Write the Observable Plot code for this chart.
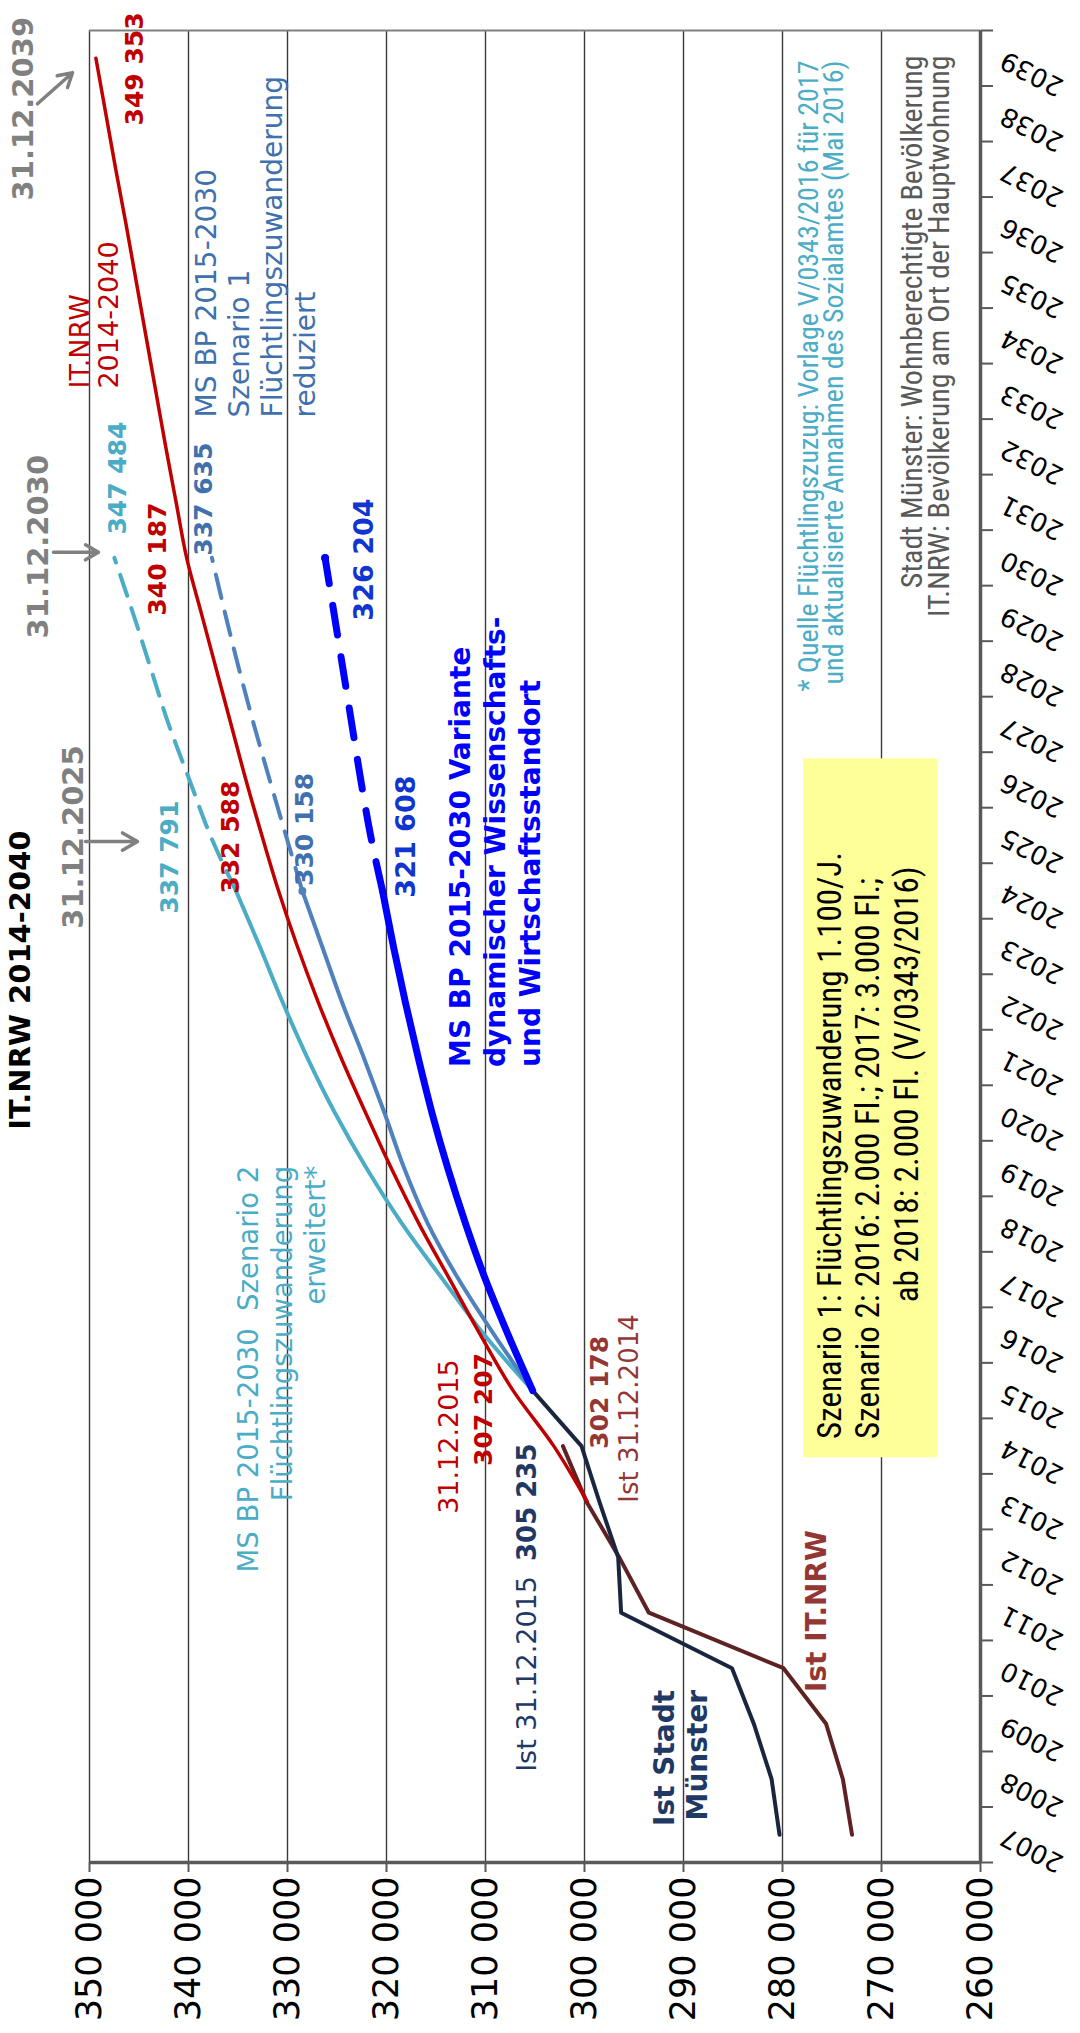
<!DOCTYPE html>
<html><head><meta charset="utf-8">
<script src="https://cdn.jsdelivr.net/npm/d3@7"></script>
<script src="https://cdn.jsdelivr.net/npm/@observablehq/plot@0.6"></script>
<style>body{margin:0;background:#fff} svg{display:block}</style>
</head><body><div id="chart"></div>
<script>
// ---------- data ----------
const yearTicks = d3.range(2007, 2040);
const valueTicks = d3.range(260000, 350001, 10000);

const yearsIstMS = [2007, 2008, 2009, 2010, 2011, 2012, 2013, 2014, 2015];
const istMuenster = [280300, 281100, 282900, 285100, 296300, 296600, 298500, 300300, 305235];

const yearsIstNRW = [2007, 2008, 2009, 2010, 2011, 2012, 2013, 2014];
const istNRW = [272977, 273900, 275600, 279900, 293500, 296500, 299800, 302178];

const yearsNRW = d3.range(2013, 2040);
const itnrw = [299728, 303100, 307207, 310500, 313600, 316700, 319500, 322100, 324600, 326900,
  329000, 330900, 332588, 334200, 335700, 337200, 338700, 340187, 341250, 342300, 343300,
  344300, 345300, 346300, 347350, 348350, 349353];

const yearsSolid = [2015, 2016, 2017, 2018, 2019, 2020, 2021, 2022, 2023, 2024];
const yearsDash = [2024, 2025, 2026, 2027, 2028, 2029, 2030];
const sz2Solid = [305235, 310100, 314300, 318400, 322000, 325200, 328000, 330500, 332800, 335200];
const sz2Dash = [335200, 337791, 339900, 342000, 343800, 345600, 347484];
const sz1Solid = [305235, 309100, 312700, 315800, 318200, 320200, 322300, 324500, 326500, 328500];
const sz1Dash = [328500, 330158, 331800, 333400, 334900, 336300, 337635];
const varSolid = [305235, 307700, 310000, 312000, 313800, 315400, 316800, 318100, 319300, 320400];
const varDash = [320400, 321608, 322600, 323500, 324400, 325300, 326204];

// ---------- helpers ----------
const rows = (ys, vs) => ys.map((y, i) => ({year: y, v: vs[i]}));
const fmt = d => d3.format(",")(d).replace(/,/g, " ");
const C = {red: "#c00000", navy: "#1a2640", navyT: "#1f3864", brown: "#5e2222", brownT: "#943634",
  cyan: "#4bacc6", steel: "#4f81bd", steelT: "#4070ad", blue: "#0000ff", blueT: "#1035d0",
  gray: "#808080", dgray: "#595959"};

// annotations (data coordinates: x = population, y = year)
const notes = [
  {t: "31.12.2039", x: 355657, y: 2036.44, c: C.gray, w: "bold", s: 29},
  {t: "31.12.2030", x: 354242, y: 2028.55, c: C.gray, w: "bold", s: 29},
  {t: "31.12.2025", x: 350707, y: 2023.32, c: C.gray, w: "bold", s: 29},
  {t: "IT.NRW 2014-2040", x: 355960, y: 2025.09, c: "#000", w: "bold", s: 29, a: "end"},
  {t: "IT.NRW\n2014-2040", x: 347071, y: 2033.05, c: C.red, s: 27, lh: 1.11},
  {t: "349 353", x: 344646, y: 2037.79, c: C.red, w: "bold", s: 25},
  {t: "MS BP 2015-2030\nSzenario 1\nFlüchtlingszuwanderung\nreduziert", x: 327172, y: 2032.53, c: C.steelT, s: 28, lh: 1.18},
  {t: "347 484", x: 346263, y: 2030.42, c: C.cyan, w: "bold", s: 25},
  {t: "340 187", x: 342323, y: 2028.96, c: C.red, w: "bold", s: 25},
  {t: "337 635", x: 337576, y: 2030.04, c: C.steelT, w: "bold", s: 25},
  {t: "326 204", x: 321414, y: 2028.87, c: C.blueT, w: "bold", s: 27},
  {t: "337 791", x: 341111, y: 2023.59, c: C.cyan, w: "bold", s: 25},
  {t: "332 588", x: 334949, y: 2023.95, c: C.red, w: "bold", s: 25},
  {t: "330 158", x: 327374, y: 2024.09, c: C.steelT, w: "bold", s: 25},
  {t: "321 608", x: 317071, y: 2023.88, c: C.blueT, w: "bold", s: 27},
  {t: "MS BP 2015-2030 Variante\ndynamischer Wissenschafts-\nund Wirtschaftsstandort", x: 304545, y: 2020.83, c: C.blue, w: "bold", s: 28, lh: 1.25},
  {t: "MS BP 2015-2030  Szenario 2\nFlüchtlingszuwanderung\nerweitert*", x: 326162, y: 2019.05, c: C.cyan, s: 27.5, lh: 1.22, a: "end"},
  {t: "31.12.2015", x: 312828, y: 2012.78, c: C.red, s: 27},
  {t: "307 207", x: 309293, y: 2013.64, c: C.red, w: "bold", s: 25},
  {t: "Ist 31.12.2015", x: 304949, y: 2011.66, c: C.navyT, s: 27, a: "end"},
  {t: "305 235", x: 304949, y: 2011.93, c: C.navyT, w: "bold", s: 26},
  {t: "302 178", x: 297576, y: 2013.95, c: C.brownT, w: "bold", s: 25},
  {t: "Ist 31.12.2014", x: 294646, y: 2012.98, c: C.brownT, s: 26},
  {t: "Ist Stadt\nMünster", x: 287576, y: 2009.61, c: C.navyT, w: "bold", s: 28, lh: 1.18, a: "end"},
  {t: "Ist IT.NRW", x: 275556, y: 2009.57, c: C.brownT, w: "bold", s: 28},
  {t: "Szenario 1: Flüchtlingszuwanderung 1.100/J.\nSzenario 2: 2016: 2.000 Fl.; 2017: 3.000 Fl.;", x: 270303, y: 2014.13, c: "#000", s: 33, lh: 1.15, f: "narrow"},
  {t: "ab 2018: 2.000 Fl. (V/0343/2016)", x: 266263, y: 2024.44, c: "#000", s: 33, a: "end", f: "narrow"},
  {t: "* Quelle Flüchtlingszuzug: Vorlage V/0343/2016 für 2017\nund aktualisierte Annahmen des Sozialamtes (Mai 2016)", x: 273939, y: 2038.96, c: C.cyan, s: 28, lh: 0.88, a: "end", f: "narrow"},
  {t: "Stadt Münster: Wohnberechtigte Bevölkerung\nIT.NRW: Bevölkerung am Ort der Hauptwohnung", x: 263232, y: 2039.05, c: C.dgray, s: 30, lh: 0.9, a: "end", f: "narrow"}
];
const arrows = [
  {x1: 355253, y1: 2038.18, x2: 351717, y2: 2038.74},
  {x1: 353636, y1: 2030.1, x2: 349091, y2: 2030.1},
  {x1: 350404, y1: 2024.89, x2: 345152, y2: 2024.89}
];
const box = [{x1: 277879, x2: 264343, y1: 2013.79, y2: 2026.38}];

const NARROW = "'Liberation Sans Narrow', 'Arial Narrow', 'Roboto Condensed', sans-serif";
const label = d => Plot.text([d], {
  x: "x", y: "y", text: "t", rotate: -90,
  fill: d.c, fontWeight: d.w || "normal", fontSize: d.s,
  fontFamily: d.f === "narrow" ? NARROW : "DejaVu Sans",
  textAnchor: d.a || "start", lineAnchor: "bottom", lineHeight: d.lh || 1.2
});

const chart = Plot.plot({
  width: 1080, height: 2033,
  marginLeft: 89, marginRight: 100, marginTop: 30, marginBottom: 171,
  x: {domain: [350000, 260000]},
  y: {domain: [2006.5, 2039.5]},
  style: {fontFamily: "DejaVu Sans", background: "#fff", color: "#000"},
  marks: [
    Plot.ruleX(valueTicks, {stroke: "#3a3a3a", strokeWidth: 1.4}),
    Plot.ruleY([2039.5], {stroke: C.gray, strokeWidth: 2}),
    Plot.rect(box, {x1: "x1", x2: "x2", y1: "y1", y2: "y2", fill: "#ffff99"}),
    Plot.ruleY([2006.5], {stroke: C.dgray, strokeWidth: 3.5}),
    Plot.ruleX([260000], {stroke: C.dgray, strokeWidth: 3.5}),
    Plot.axisX({ticks: valueTicks, tickFormat: fmt, tickRotate: -90, textAnchor: "end", lineAnchor: "middle",
      fontSize: 35, tickSize: 10, tickPadding: 4, stroke: C.dgray, strokeWidth: 2, label: null}),
    Plot.axisY({anchor: "right", ticks: d3.range(2006.5, 2040, 1), tickSize: 12, tickFormat: () => "",
      stroke: C.dgray, strokeWidth: 2, label: null}),
    Plot.axisY({anchor: "right", ticks: yearTicks, tickSize: 0, tickFormat: d => String(d), tickRotate: 207,
      textAnchor: "end", lineAnchor: "middle", fontSize: 26, tickPadding: 22, label: null}),
    // lines
    Plot.line(rows(yearsIstNRW, istNRW), {x: "v", y: "year", stroke: C.brown, strokeWidth: 4}),
    Plot.line(rows(yearsIstMS, istMuenster), {x: "v", y: "year", stroke: C.navy, strokeWidth: 4}),
    Plot.line(rows(yearsSolid, sz2Solid), {x: "v", y: "year", stroke: C.cyan, strokeWidth: 4, curve: "monotone-y"}),
    Plot.line(rows(yearsDash, sz2Dash), {x: "v", y: "year", stroke: C.cyan, strokeWidth: 4, curve: "monotone-y", strokeDasharray: "22,13"}),
    Plot.line(rows(yearsSolid, sz1Solid), {x: "v", y: "year", stroke: C.steel, strokeWidth: 4, curve: "monotone-y"}),
    Plot.line(rows(yearsDash, sz1Dash), {x: "v", y: "year", stroke: C.steel, strokeWidth: 4, curve: "monotone-y", strokeDasharray: "24,14"}),
    Plot.dot(rows([2024], [sz1Solid[sz1Solid.length - 1]]), {x: "v", y: "year", fill: C.steel, r: 4}),
    Plot.line(rows(yearsNRW, itnrw), {x: "v", y: "year", stroke: C.red, strokeWidth: 3.5, curve: "monotone-y"}),
    Plot.line(rows(yearsSolid, varSolid), {x: "v", y: "year", stroke: C.blue, strokeWidth: 7, curve: "monotone-y"}),
    Plot.line(rows(yearsDash, varDash), {x: "v", y: "year", stroke: C.blue, strokeWidth: 7, curve: "monotone-y", strokeDasharray: "30,22"}),
    Plot.dot(rows([2030], [varDash[varDash.length - 1]]), {x: "v", y: "year", fill: C.blue, r: 4}),
    // arrows
    Plot.arrow(arrows, {x1: "x1", y1: "y1", x2: "x2", y2: "y2", stroke: C.gray, strokeWidth: 3.5, headLength: 16}),
    // labels
    ...notes.map(label)
  ]
});
document.getElementById("chart").appendChild(chart);
</script></body></html>
